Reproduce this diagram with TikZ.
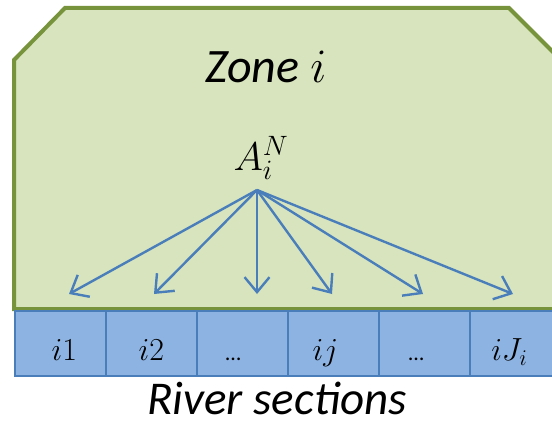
\RequirePackage{fix-cm}
\documentclass[tikz,border=0pt]{standalone}
\usepackage{fontspec}
\setmainfont{Carlito}
\usetikzlibrary{arrows.meta,calc}
\definecolor{zonefill}{HTML}{D7E4BD}
\definecolor{zoneline}{HTML}{77933C}
\definecolor{cellfill}{HTML}{8DB3E2}
\definecolor{cellline}{HTML}{4A7EBB}
\tikzset{
  cellbox/.style={draw=cellline, line width=1.6pt, fill=cellfill, minimum width=91pt, minimum height=65pt, inner sep=0pt, anchor=north west},
  flowarrow/.style={draw=cellline, line width=2.4pt, -{Straight Barb[length=15pt,width=25pt,line width=2.4pt]}},
  bigtext/.style={font=\fontsize{47}{50}\selectfont\itshape, anchor=base, inner sep=0pt},
  celltext/.style={font=\fontsize{32}{35}\selectfont, anchor=base, inner sep=0pt},
}
\begin{document}
\begin{tikzpicture}[x=1pt,y=-1pt]
\useasboundingbox (0,0) rectangle (552,428);
\clip (0,0) rectangle (552,428);
\fill[white] (0,0) rectangle (552,428);
% zone polygon
\draw[fill=zonefill, draw=zoneline, line width=4pt, line join=miter]
  (14,309) -- (14,60) -- (65,8) -- (509,8) -- (562,61) -- (562,309) -- cycle;
% river sections
\foreach \k/\x in {1/14,2/105,3/196,4/287,5/378,6/469}{
  \node[cellbox] (c\k) at (\x,310) {};
}
\node[celltext] (t1) at ($(c1.center)+(4,17)$) {$i1$};
\node[celltext] (t2) at ($(c2.center)+(0,17)$) {$i2$};
\node[celltext, font=\fontsize{22}{24}\selectfont] (t3) at ($(c3.center)+(-9,17)$) {…};
\node[celltext] (t4) at ($(c4.center)+(-8,17)$) {$ij$};
\node[celltext, font=\fontsize{22}{24}\selectfont] (t5) at ($(c5.center)+(-8,17)$) {…};
\node[celltext] (t6) at ($(c6.center)+(-6,17)$) {$iJ_i$};
% zone label
\node[bigtext, font=\fontsize{48}{50}\selectfont\itshape] (zone) at (266,82) {Zone $i$};
\node[font=\fontsize{40}{44}\selectfont, anchor=base, inner sep=0pt] (A) at (261,170) {$A_i^N$};
\node[bigtext] (river) at (277,414) {River sections};
% arrows
\coordinate (apex) at (257,190);
\coordinate (e1) at (69,294);
\coordinate (e2) at (154,294);
\coordinate (e3) at (257,294);
\coordinate (e4) at (332,294);
\coordinate (e5) at (423,294);
\coordinate (e6) at (513,294);
\foreach \k in {1,...,6}{
  \draw[flowarrow] (apex) -- (e\k);
}
\end{tikzpicture}
\end{document}
